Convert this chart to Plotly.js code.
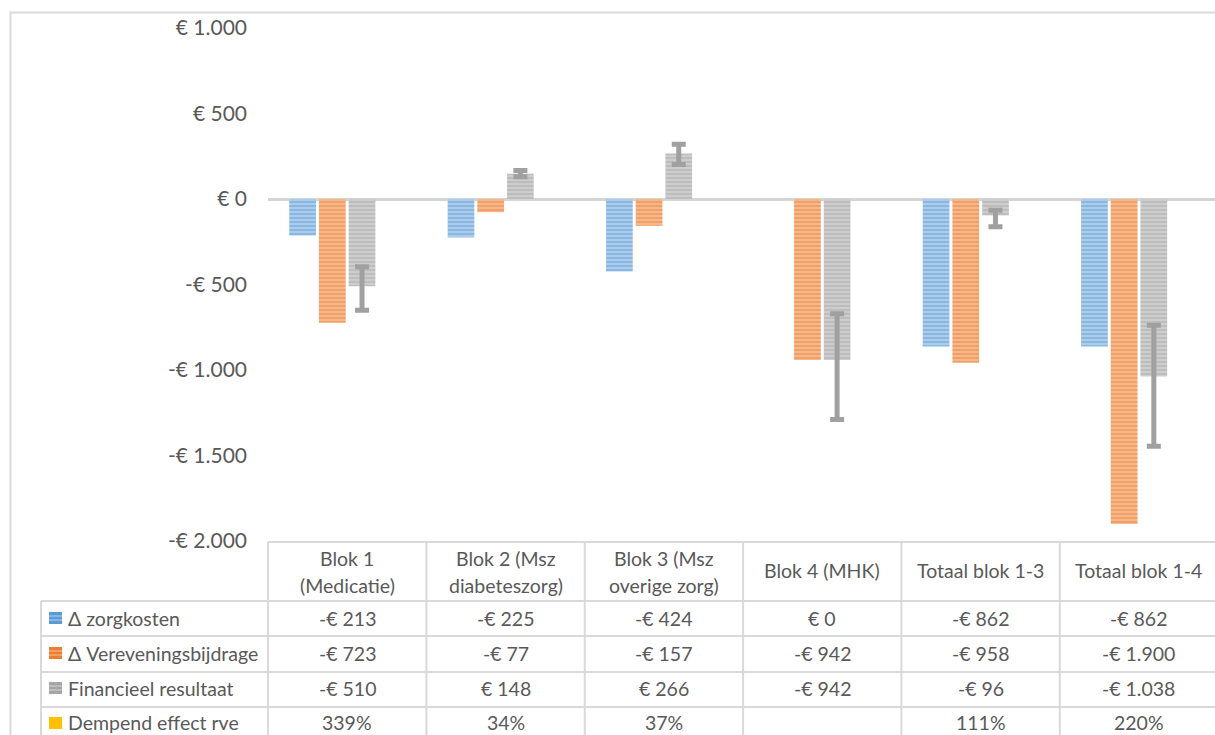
<!DOCTYPE html>
<html>
<head>
<meta charset="utf-8">
<script src="https://cdn.plot.ly/plotly-3.0.1.min.js"></script>
<style>
html,body{margin:0;padding:0;background:#fff;}
#chart{width:1215px;height:735px;}
</style>
</head>
<body>
<div id="chart"></div>
<script>
// ---- data ----
const categories = ["Blok 1\n(Medicatie)", "Blok 2 (Msz\ndiabeteszorg)", "Blok 3 (Msz\noverige zorg)", "Blok 4 (MHK)", "Totaal blok 1-3", "Totaal blok 1-4"];
const seriesNames = ["\u0394 zorgkosten", "\u0394 Vereveningsbijdrage", "Financieel resultaat", "Dempend effect rve"];
const zorgkosten = [-213, -225, -424, 0, -862, -862];
const vereveningsbijdrage = [-723, -77, -157, -942, -958, -1900];
const financieelResultaat = [-510, 148, 266, -942, -96, -1038];
const dempendEffect = [3.39, 0.34, 0.37, null, 1.11, 2.20];
const errorPlus = [114, 18, 54, 271, 30, 300];
const errorMinus = [140, 18, 64, 348, 66, 408];
const yTickVals = [1000, 500, 0, -500, -1000, -1500, -2000];
const yTickText = ["\u20ac 1.000", "\u20ac 500", "\u20ac 0", "-\u20ac 500", "-\u20ac 1.000", "-\u20ac 1.500", "-\u20ac 2.000"];

// ---- styling ----
const colors = ["#5b9bd5", "#ed7d31", "#a5a5a5", "#ffc000"];
const tints = ["#b9d3ed", "#f6c19b", "#d4d4d4", "#fff2cc"];
const textColor = "#595959";
const lineColor = "#d9d9d9";
const FONT = "Lato, 'DejaVu Sans', sans-serif";

const FIG_W = 1215, FIG_H = 735;
const L = 268, T = 28, B = 194, R = 0;
const W = FIG_W - L - R, H = FIG_H - T - B;
const xRange = [-0.5, 5.48];
const px = x => (x - L) / W;
const py = y => (T + H - y) / H;
const catEdge = k => L + (k - xRange[0]) / (xRange[1] - xRange[0]) * W;

const xIdx = categories.map((c, i) => i);
const seriesValues = [zorgkosten, vereveningsbijdrage, financieelResultaat, dempendEffect];

const traces = seriesValues.map((vals, s) => {
  const t = {
    type: "bar",
    name: seriesNames[s],
    x: xIdx,
    y: vals,
    marker: {
      color: tints[s],
      line: {width: 0},
      pattern: {shape: "-", fgcolor: colors[s], bgcolor: tints[s], size: 4, solidity: 0.65, fillmode: "overlay"}
    },
    hoverinfo: "y+name"
  };
  if (s === 3) { t.marker = {color: colors[s], line: {width: 0}}; t.opacity = 0; }
  if (s === 2) {
    t.error_y = {type: "data", symmetric: false, array: errorPlus, arrayminus: errorMinus,
                 color: "#a0a0a0", thickness: 5, width: 7};
  }
  return t;
});

// ---- data table (drawn from the same arrays) ----
const shapes = [];
const annotations = [];
const rowLines = [601, 636, 672, 707];
const headerTop = 542;
const tableLeft = 41;
const tableBottom = 760;
const lineSpec = {color: lineColor, width: 2};

shapes.push({type: "rect", xref: "paper", yref: "paper", x0: px(10.5), x1: px(1240), y0: py(12.5), y1: py(780),
             line: {color: lineColor, width: 2}, fillcolor: "rgba(0,0,0,0)", layer: "below"});

shapes.push({type: "line", xref: "paper", yref: "paper", x0: px(L), x1: px(catEdge(categories.length - 0.5)), y0: py(headerTop), y1: py(headerTop), line: lineSpec});
rowLines.forEach(y => shapes.push({type: "line", xref: "paper", yref: "paper", x0: px(tableLeft), x1: px(catEdge(categories.length - 0.5)), y0: py(y), y1: py(y), line: lineSpec}));
shapes.push({type: "line", xref: "paper", yref: "paper", x0: px(tableLeft), x1: px(tableLeft), y0: py(rowLines[0]), y1: py(tableBottom), line: lineSpec});
for (let k = 0; k <= categories.length; k++) {
  const xe = catEdge(k - 0.5);
  shapes.push({type: "line", xref: "paper", yref: "paper", x0: px(xe), x1: px(xe), y0: py(headerTop), y1: py(tableBottom), line: lineSpec});
}

const tableFont = {family: FONT, size: 19.5, color: textColor};
function ann(text, xPix, yPix, anchor) {
  annotations.push({text: text, xref: "paper", yref: "paper", x: px(xPix), y: py(yPix),
    xanchor: anchor || "center", yanchor: "middle", showarrow: false, font: tableFont});
}

categories.forEach((c, i) => {
  const cx = (catEdge(i - 0.5) + catEdge(i + 0.5)) / 2;
  const parts = c.split("\n");
  if (parts.length === 2) { ann(parts[0], cx, 558); ann(parts[1], cx, 585); }
  else ann(parts[0], cx, 571);
});

function fmtEuro(v) {
  if (v === null || v === undefined) return "";
  const a = Math.abs(Math.round(v)).toString().replace(/\B(?=(\d{3})+(?!\d))/g, ".");
  return (v < 0 ? "-\u20ac " : "\u20ac ") + a;
}
function fmtPct(v) {
  if (v === null || v === undefined) return "";
  return Math.round(v * 100) + "%";
}

const rowCenters = [618, 653, 688, 723];
seriesValues.forEach((vals, s) => {
  const yc = rowCenters[s];
  const kx0 = 49, kx1 = 62, ky0 = yc - 6, ky1 = yc + 6;
  shapes.push({type: "rect", xref: "paper", yref: "paper", x0: px(kx0), x1: px(kx1), y0: py(ky0), y1: py(ky1),
               line: {width: 0}, fillcolor: colors[s]});
  if (s < 3) {
    [ky0 + 4, ky0 + 8].forEach(yy => shapes.push({type: "line", xref: "paper", yref: "paper", x0: px(kx0), x1: px(kx1), y0: py(yy), y1: py(yy),
      line: {color: tints[s], width: 1}}));
  }
  ann(seriesNames[s], 66, yc, "left");
  vals.forEach((v, i) => {
    const cx = (catEdge(i - 0.5) + catEdge(i + 0.5)) / 2;
    ann(s === 3 ? fmtPct(v) : fmtEuro(v), cx, yc);
  });
});

const layout = {
  width: FIG_W, height: FIG_H,
  margin: {l: L, r: R, t: T, b: B, pad: 0},
  paper_bgcolor: "#ffffff", plot_bgcolor: "#ffffff",
  barmode: "group", bargap: 0.25, bargroupgap: 0.1,
  showlegend: false,
  font: {family: FONT, color: textColor},
  xaxis: {type: "linear", range: xRange, showticklabels: false, ticks: "", showgrid: false, zeroline: false, showline: false, fixedrange: true},
  yaxis: {range: [-2000, 1000], tickvals: yTickVals, ticktext: yTickText, ticks: "", showgrid: false,
          zeroline: true, zerolinecolor: "#d4d4d4", zerolinewidth: 3, showline: false,
          tickfont: {family: FONT, size: 21, color: textColor}, ticklabelstandoff: 20, fixedrange: true},
  shapes: shapes,
  annotations: annotations
};

Plotly.newPlot("chart", traces, layout, {displayModeBar: false, staticPlot: true});
</script>
</body>
</html>
